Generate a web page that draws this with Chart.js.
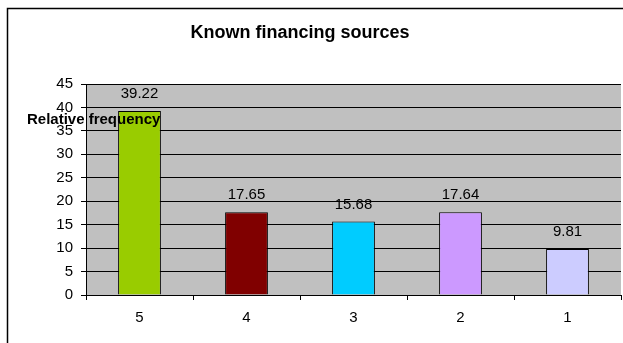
<!DOCTYPE html>
<html>
<head>
<meta charset="utf-8">
<script src="https://cdn.jsdelivr.net/npm/chart.js@4/dist/chart.umd.min.js"></script>
<style>
  html, body { margin: 0; padding: 0; background: #fff; }
  #wrap { width: 623px; height: 343px; }
</style>
</head>
<body>
<div id="wrap"><canvas id="chart-financing" width="623" height="343"></canvas></div>
<script>
var categories = ['5', '4', '3', '2', '1'];
var frequency = [39.22, 17.65, 15.68, 17.64, 9.81];
var barColors = ['#99CC00', '#800000', '#00CCFF', '#CC99FF', '#CCCCFF'];
var yMax = 45;
var yStep = 5;

var FONT = "'Liberation Sans', Arial, sans-serif";

// white page, outer frame, title and grey plot background
var frame = {
    id: 'frame',
    beforeDraw: function (chart) {
        var ctx = chart.ctx, a = chart.chartArea;
        ctx.save();
        ctx.fillStyle = '#ffffff';
        ctx.fillRect(0, 0, chart.width, chart.height);
        ctx.strokeStyle = '#000000';
        ctx.lineWidth = 1.5;
        ctx.strokeRect(7.5, 8.5, chart.width + 20, chart.height + 20);
        ctx.fillStyle = '#C0C0C0';
        ctx.fillRect(a.left, a.top, a.right - a.left, a.bottom - a.top);

        ctx.font = 'bold 18px ' + FONT;
        ctx.fillStyle = '#000000';
        ctx.textAlign = 'center';
        ctx.textBaseline = 'middle';
        ctx.fillText('Known financing sources', 300, 33);
        ctx.restore();
    }
};

// value above each bar
var valueLabels = {
    id: 'valueLabels',
    afterDatasetsDraw: function (chart) {
        var ctx = chart.ctx;
        ctx.save();
        ctx.font = '15px ' + FONT;
        ctx.fillStyle = '#000000';
        ctx.textAlign = 'center';
        ctx.textBaseline = 'middle';
        chart.getDatasetMeta(0).data.forEach(function (bar, i) {
            ctx.fillText(String(frequency[i]), bar.x, bar.y - 17);
        });
        ctx.restore();
    }
};

// horizontal axis title sitting over the plot
var axisTitle = {
    id: 'axisTitle',
    afterDraw: function (chart) {
        var ctx = chart.ctx;
        ctx.save();
        ctx.font = 'bold 15px ' + FONT;
        ctx.fillStyle = '#000000';
        ctx.textAlign = 'left';
        ctx.textBaseline = 'middle';
        ctx.fillText('Relative frequency', 27, 120);
        ctx.restore();
    }
};

var canvasFinancing = document.getElementById('chart-financing');

var chartFinancing = new Chart(canvasFinancing.getContext('2d'), {
    type: 'bar',
    data: {
        labels: categories,
        datasets: [{
            label: 'Relative frequency',
            data: frequency,
            backgroundColor: barColors,
            borderColor: '#000000',
            borderWidth: 1,
            barPercentage: 0.4,
            categoryPercentage: 1
        }]
    },
    options: {
        responsive: false,
        animation: false,
        layout: {
            padding: { left: 0, right: 2, top: 84, bottom: 0 }
        },
        plugins: {
            legend: { display: false },
            tooltip: { enabled: false },
            title: { display: false }
        },
        scales: {
            x: {
                grid: {
                    display: true,
                    drawOnChartArea: false,
                    drawTicks: true,
                    tickLength: 5,
                    color: '#000000',
                    offset: true
                },
                border: { color: '#000000', width: 1 },
                ticks: {
                    color: '#000000',
                    font: { family: FONT, size: 15 },
                    padding: 9
                },
                afterFit: function (scale) { scale.height = 48; }
            },
            y: {
                min: 0,
                max: yMax,
                grid: {
                    color: '#000000',
                    tickLength: 5,
                    drawTicks: true
                },
                border: { color: '#000000', width: 1 },
                ticks: {
                    stepSize: yStep,
                    color: '#000000',
                    font: { family: FONT, size: 15 },
                    padding: 8
                },
                afterFit: function (scale) { scale.width = 86; }
            }
        }
    },
    plugins: [frame, valueLabels, axisTitle]
});
</script>
</body>
</html>
